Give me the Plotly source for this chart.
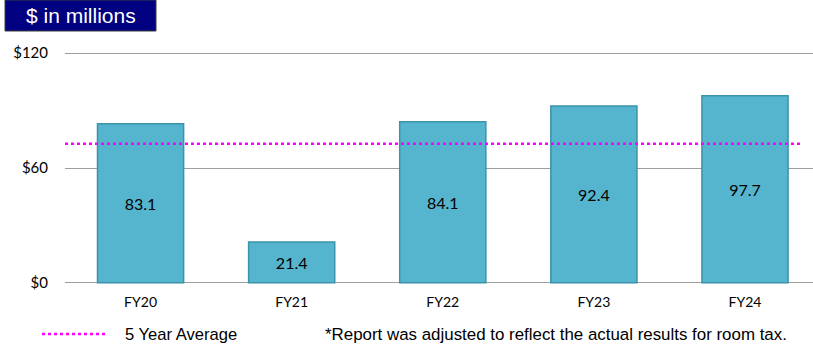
import plotly.graph_objects as go

# Revenue by fiscal year, $ in millions
fiscal_years = ["FY20", "FY21", "FY22", "FY23", "FY24"]
revenue = [83.1, 21.4, 84.1, 92.4, 97.7]
five_year_avg = 72.7
y_ticks = [0, 60, 120]
y_tick_labels = ["$0", "$60", "$120"]

W, H = 813, 350
M_L, M_R, M_T, M_B = 65, 0, 52, 66
X_RANGE = [-0.5, 4.45]
Y_RANGE = [-0.6, 120.6]

BAR_FILL = "#55B5CE"
BAR_EDGE = "#3A93AB"
CALIBRI_LIKE = "Lato, 'Open Sans', sans-serif"
ARIAL_LIKE = "'Liberation Sans', Arial, sans-serif"

fig = go.Figure()

fig.add_trace(go.Bar(
    x=list(range(len(fiscal_years))),
    y=revenue,
    width=0.57,
    marker=dict(color=BAR_FILL, line=dict(color=BAR_EDGE, width=1.5)),
    text=[f"{v:.1f}" for v in revenue],
    textposition="inside",
    insidetextanchor="middle",
    textangle=0,
    textfont=dict(family=CALIBRI_LIKE, size=16, color="#000000"),
    showlegend=False,
    hoverinfo="x+y",
))

# five-year average reference line
fig.add_trace(go.Scatter(
    x=[X_RANGE[0], 4.38],
    y=[five_year_avg, five_year_avg],
    mode="lines",
    line=dict(color="#FF00FF", width=2.5, dash="dot"),
    showlegend=False,
    hoverinfo="y",
))

plot_w = W - M_L - M_R
plot_h = H - M_T - M_B


def px_x(p):
    return (p - M_L) / plot_w


def px_y(p):
    return (H - M_B - p) / plot_h


shapes = [
    # title box
    dict(type="rect", xref="paper", yref="paper",
         x0=px_x(5), x1=px_x(156), y0=px_y(31), y1=px_y(0),
         fillcolor="#000080", line=dict(color="#3C3C3C", width=1), layer="above"),
    # legend sample for the average line
    dict(type="line", xref="paper", yref="paper",
         x0=px_x(42), x1=px_x(105), y0=px_y(334), y1=px_y(334),
         line=dict(color="#FF00FF", width=2.5, dash="dot")),
]

annotations = [
    dict(text="$ in millions", xref="paper", yref="paper",
         x=px_x(81), y=px_y(15.5), xanchor="center", yanchor="middle",
         showarrow=False, font=dict(family=ARIAL_LIKE, size=21, color="#FFFFFF")),
    dict(text="5 Year Average", xref="paper", yref="paper",
         x=px_x(123), y=px_y(334), xanchor="left", yanchor="middle",
         showarrow=False, font=dict(family=ARIAL_LIKE, size=16.6, color="#000000")),
    dict(text="*Report was adjusted to reflect the actual results for room tax.",
         xref="paper", yref="paper",
         x=px_x(323), y=px_y(334), xanchor="left", yanchor="middle",
         showarrow=False, font=dict(family=ARIAL_LIKE, size=16.9, color="#000000")),
]

fig.update_layout(
    width=W, height=H,
    margin=dict(l=M_L, r=M_R, t=M_T, b=M_B, pad=0),
    paper_bgcolor="#FFFFFF",
    plot_bgcolor="#FFFFFF",
    shapes=shapes,
    annotations=annotations,
    xaxis=dict(
        range=X_RANGE,
        tickmode="array",
        tickvals=list(range(len(fiscal_years))),
        ticktext=fiscal_years,
        showgrid=False, zeroline=False, showline=False, ticks="",
        tickfont=dict(family=CALIBRI_LIKE, size=14, color="#000000"),
        ticklabelstandoff=8,
    ),
    yaxis=dict(
        range=Y_RANGE,
        tickmode="array",
        tickvals=y_ticks,
        ticktext=y_tick_labels,
        showgrid=True, gridcolor="#9E9E9E", gridwidth=1.3,
        zeroline=False, showline=False, ticks="",
        tickfont=dict(family=CALIBRI_LIKE, size=15, color="#000000"),
        ticklabelstandoff=16,
    ),
)

fig.write_html("out.html")
